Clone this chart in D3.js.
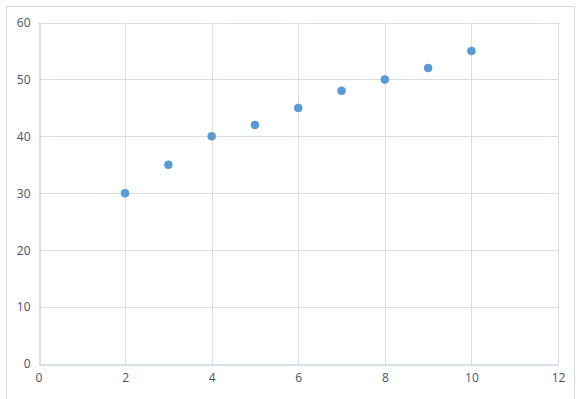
<!DOCTYPE html>
<html><head><meta charset="utf-8">
<script src="https://cdn.jsdelivr.net/npm/d3@7"></script>
<style>body{margin:0;background:#fff}svg{display:block}</style>
</head><body>
<script>
const xValues = [2, 3, 4, 5, 6, 7, 8, 9, 10];
const yValues = [30, 35, 40, 42, 45, 48, 50, 52, 55];
const xTicks = [0, 2, 4, 6, 8, 10, 12];
const yTicks = [0, 10, 20, 30, 40, 50, 60];

const W = 586, H = 399;
const m = {left: 38.5, right: 28, top: 22.5, bottom: 35};
const svg = d3.select("body").append("svg").attr("width", W).attr("height", H);

svg.append("rect").attr("x", 6.5).attr("y", 6.5).attr("width", 568).attr("height", 400)
  .attr("fill", "#fff").attr("stroke", "#d9d9d9").attr("stroke-width", 1);

const x = d3.scaleLinear().domain([0, 12]).range([m.left, W - m.right]);
const y = d3.scaleLinear().domain([0, 60]).range([H - m.bottom, m.top]);

const g = svg.append("g");
// gridlines
g.selectAll(".vg").data(xTicks.slice(1)).join("line")
  .attr("x1", d => Math.round(x(d)) + 0.5).attr("x2", d => Math.round(x(d)) + 0.5)
  .attr("y1", y(60)).attr("y2", y(0)).attr("stroke", "#d9dee6");
g.selectAll(".hg").data(yTicks.slice(1)).join("line")
  .attr("y1", d => Math.round(y(d)) + 0.5).attr("y2", d => Math.round(y(d)) + 0.5)
  .attr("x1", x(0)).attr("x2", x(12)).attr("stroke", "#d9dee6");

// axes
const xAxis = d3.axisBottom(x).tickValues(xTicks).tickSize(0).tickPadding(9);
const yAxis = d3.axisLeft(y).tickValues(yTicks).tickSize(0).tickPadding(9);
const gx = svg.append("g").attr("transform", `translate(0,${Math.round(y(0)) + 0.5})`).call(xAxis);
const gy = svg.append("g").attr("transform", `translate(${Math.round(x(0)) + 0.5},0)`).call(yAxis);
[gx, gy].forEach(a => {
  a.select(".domain").attr("stroke", "#b4c0d1");
  a.selectAll("text").attr("fill", "#44546a").style("font-family", "'Open Sans', 'Liberation Sans', sans-serif").style("font-size", "12px");
});

// points
svg.selectAll("circle.pt").data(xValues.map((d, i) => [d, yValues[i]])).join("circle")
  .attr("class", "pt")
  .attr("cx", d => x(d[0])).attr("cy", d => y(d[1])).attr("r", 4)
  .attr("fill", "#5b9bd5").attr("stroke", "#4f8fcf").attr("stroke-width", 0.5);
</script>
</body></html>
